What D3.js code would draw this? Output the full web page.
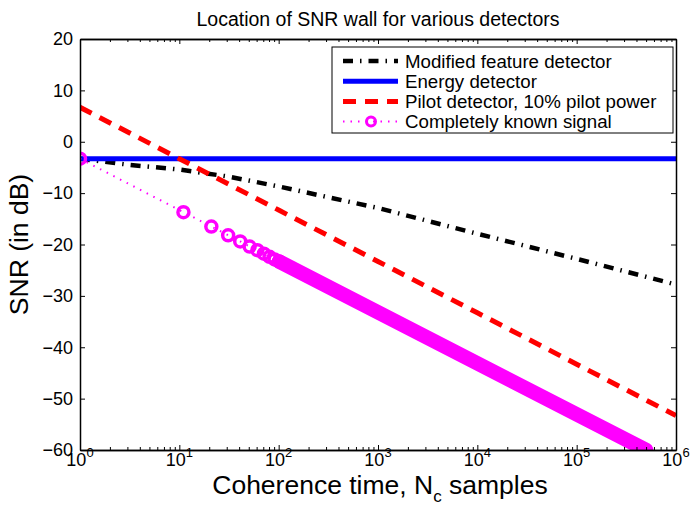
<!DOCTYPE html>
<html>
<head>
<meta charset="utf-8">
<script src="https://cdn.jsdelivr.net/npm/d3@7"></script>
<style>
  body { margin: 0; background: #fff; }
  text { font-family: "Liberation Sans", Arial, Helvetica, sans-serif; fill: #000; }
</style>
</head>
<body>
<svg id="chart" width="691" height="506"></svg>
<script>
// Datos (N = muestras, SNR en dB)
const featureN   = [1, 3.16, 10, 31.6, 100, 316, 1000, 1e4, 1e5, 1e6];
const featureSNR = [-3.3, -4.5, -5.4, -6.8, -8.7, -10.8, -12.9, -17.9, -22.8, -27.8];

const energyN   = [1, 1e6];
const energySNR = [-3.3, -3.3];

const pilotN   = [1, 10, 100, 1000, 1e4, 1e5, 1e6];
const pilotSNR = [6.7, -3.3, -13.3, -23.3, -33.3, -43.3, -53.3];

// marcadores individuales de la señal conocida
const knownN   = [1, 11, 21, 31, 41, 51, 61, 71, 81, 91, 101];
const knownSNR = [-3.3, -13.7, -16.5, -18.2, -19.4, -20.4, -21.1, -21.8, -22.4, -22.9, -23.3];
// tramo donde los marcadores se solapan en una banda continua
const knownBandN   = [101, 5e5];
const knownBandSNR = [-23.3, -60.0];

const yTicks = [-60, -50, -40, -30, -20, -10, 0, 10, 20];
const xTicks = [1, 10, 100, 1000, 1e4, 1e5, 1e6];

const legendLabels = [
    "Modified feature detector",
    "Energy detector",
    "Pilot detector, 10% pilot power",
    "Completely known signal"
];

const title = "Location of SNR wall for various detectors";

const svg = d3.select("#chart");
const width = 691, height = 506;
const margin = { top: 39, right: 15, bottom: 56, left: 80 };
const x0 = margin.left, x1 = width - margin.right;
const y0 = margin.top, y1 = height - margin.bottom;

const x = d3.scaleLog().domain([1, 1e6]).range([x0, x1]);
const y = d3.scaleLinear().domain([-60, 20]).range([y1, y0]);

const zip = (a, b) => a.map((v, i) => [v, b[i]]);
const linea = d3.line().x(d => x(d[0])).y(d => y(d[1]));

// minor ticks del eje log
const minorTicks = [];
xTicks.slice(0, -1).forEach(t => {
    for (let k = 2; k <= 9; k++) minorTicks.push(t * k);
});

svg.append("defs").append("clipPath").attr("id", "clip")
    .append("rect")
    .attr("x", x0).attr("y", y0)
    .attr("width", x1 - x0).attr("height", y1 - y0);

const plot = svg.append("g").attr("clip-path", "url(#clip)");

const markerR = 5.5, markerW = 3.5;

// Modified feature detector
plot.append("path")
    .datum(zip(featureN, featureSNR))
    .attr("fill", "none")
    .attr("stroke", "#000")
    .attr("stroke-width", 4.5)
    .attr("stroke-dasharray", "10,7,1.5,7")
    .attr("d", linea);

// Energy detector
plot.append("path")
    .datum(zip(energyN, energySNR))
    .attr("fill", "none")
    .attr("stroke", "#0000ff")
    .attr("stroke-width", 5)
    .attr("d", linea);

// Pilot detector
plot.append("path")
    .datum(zip(pilotN, pilotSNR))
    .attr("fill", "none")
    .attr("stroke", "#ff0000")
    .attr("stroke-width", 5)
    .attr("stroke-dasharray", "13,9")
    .attr("d", linea);

// Completely known signal
plot.append("path")
    .datum(zip(knownN, knownSNR))
    .attr("fill", "none")
    .attr("stroke", "#ff00ff")
    .attr("stroke-width", 2)
    .attr("stroke-dasharray", "1.5,6")
    .attr("d", linea);

plot.append("path")
    .datum(zip(knownBandN, knownBandSNR))
    .attr("fill", "none")
    .attr("stroke", "#ff00ff")
    .attr("stroke-width", 2 * markerR + markerW)
    .attr("stroke-linecap", "round")
    .attr("d", linea);

plot.selectAll("circle.known")
    .data(zip(knownN, knownSNR))
    .join("circle")
    .attr("class", "known")
    .attr("cx", d => x(d[0]))
    .attr("cy", d => y(d[1]))
    .attr("r", markerR)
    .attr("fill", "none")
    .attr("stroke", "#ff00ff")
    .attr("stroke-width", markerW);

// Ejes
function estiloEje(g) {
    g.select(".domain").attr("stroke", "#000").attr("stroke-width", 1.5);
    g.selectAll(".tick line").attr("stroke", "#000").attr("stroke-width", 1);
}

svg.append("g")
    .attr("transform", `translate(${x0},0)`)
    .call(d3.axisLeft(y).tickValues(yTicks).tickSize(-5).tickSizeOuter(0).tickPadding(7))
    .call(estiloEje)
    .call(g => g.selectAll("text").style("font-size", "18px").attr("font-family", null));

svg.append("g")
    .attr("transform", `translate(${x1},0)`)
    .call(d3.axisRight(y).tickValues(yTicks).tickSize(-5).tickSizeOuter(0).tickFormat(""))
    .call(estiloEje);

svg.append("g")
    .attr("transform", `translate(0,${y1})`)
    .call(d3.axisBottom(x).tickValues(xTicks).tickSize(-5).tickSizeOuter(0).tickFormat(""))
    .call(estiloEje);

svg.append("g")
    .attr("transform", `translate(0,${y1})`)
    .call(d3.axisBottom(x).tickValues(minorTicks).tickSize(-3).tickSizeOuter(0).tickFormat(""))
    .call(estiloEje);

svg.append("g")
    .attr("transform", `translate(0,${y0})`)
    .call(d3.axisTop(x).tickValues(xTicks).tickSize(-5).tickSizeOuter(0).tickFormat(""))
    .call(estiloEje);

svg.append("g")
    .attr("transform", `translate(0,${y0})`)
    .call(d3.axisTop(x).tickValues(minorTicks).tickSize(-3).tickSizeOuter(0).tickFormat(""))
    .call(estiloEje);

// Etiquetas 10^k
xTicks.forEach(t => {
    const lbl = svg.append("text")
        .attr("x", x(t))
        .attr("y", y1 + 16)
        .attr("text-anchor", "middle")
        .style("font-size", "18px");
    lbl.append("tspan").text("10");
    lbl.append("tspan")
        .attr("dy", -9)
        .style("font-size", "13px")
        .text(Math.round(Math.log10(t)));
});

// Título
svg.append("text")
    .attr("x", (x0 + x1) / 2)
    .attr("y", 26)
    .attr("text-anchor", "middle")
    .style("font-size", "19.5px")
    .text(title);

// Etiqueta eje X
const xl = svg.append("text")
    .attr("x", (x0 + x1) / 2 + 2)
    .attr("y", 494)
    .attr("text-anchor", "middle")
    .style("font-size", "26.5px");
xl.append("tspan").text("Coherence time, N");
xl.append("tspan").attr("dy", 8).style("font-size", "17px").text("c");
xl.append("tspan").attr("dy", -8).text(" samples");

// Etiqueta eje Y
svg.append("text")
    .attr("transform", `translate(28,${(y0 + y1) / 2}) rotate(-90)`)
    .attr("text-anchor", "middle")
    .style("font-size", "26.5px")
    .text("SNR (in dB)");

// Leyenda
const leg = svg.append("g");
leg.append("rect")
    .attr("x", 332).attr("y", 47)
    .attr("width", 341).attr("height", 86)
    .attr("fill", "#fff")
    .attr("stroke", "#000")
    .attr("stroke-width", 1);

const estilos = [
    { stroke: "#000", w: 4.5, dash: "10,7,1.5,7" },
    { stroke: "#0000ff", w: 5, dash: null },
    { stroke: "#ff0000", w: 5, dash: "13,9" },
    { stroke: "#ff00ff", w: 2, dash: "1.5,6" }
];

legendLabels.forEach((lab, i) => {
    const cy = 61 + i * 20.2;
    const s = estilos[i];
    leg.append("line")
        .attr("x1", 343).attr("x2", 398)
        .attr("y1", cy).attr("y2", cy)
        .attr("stroke", s.stroke)
        .attr("stroke-width", s.w)
        .attr("stroke-dasharray", s.dash);
    if (i === 3) {
        leg.append("circle")
            .attr("cx", 371).attr("cy", cy).attr("r", 4.5)
            .attr("fill", "none").attr("stroke", "#ff00ff").attr("stroke-width", 3);
    }
    leg.append("text")
        .attr("x", 405).attr("y", cy + 6.5)
        .style("font-size", "18.7px")
        .text(lab);
});
</script>
</body>
</html>
